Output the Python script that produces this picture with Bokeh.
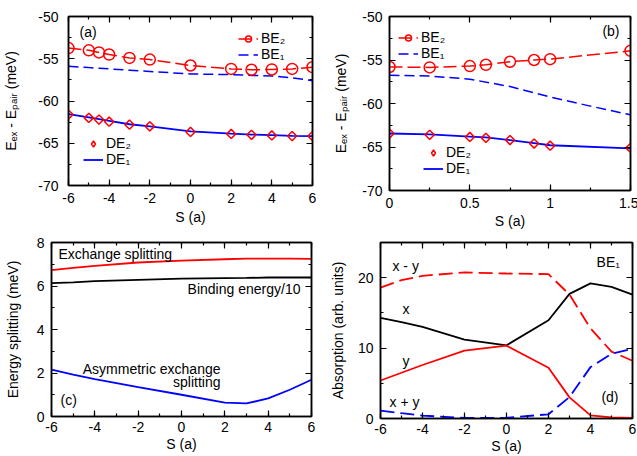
from bokeh.plotting import figure
from bokeh.layouts import column, row
from bokeh.models import (Range1d, LinearAxis, SingleIntervalTicker, CustomJSTickFormatter,
                          Legend, LegendItem, Label, CustomLabelingPolicy)
from bokeh.embed import file_html
from bokeh.resources import INLINE

FONT = "Liberation Sans"
FS = "14px"
RED = "#ff0000"
BLUE = "#0000ff"
BLACK = "#000000"

# ---------------- data ----------------
# panel (a)
s_a = [-6, -5, -4.5, -4, -3, -2, 0, 2, 3, 4, 5, 6]
be2_a = [-53.74, -54.0, -54.25, -54.5, -54.9, -55.1, -55.8, -56.2, -56.3, -56.27, -56.2, -56.0]
be1_a = [-55.9, -56.05, -56.12, -56.2, -56.35, -56.5, -56.8, -56.88, -56.97, -57.05, -57.25, -57.6]
de2_a = [-61.6, -62.0, -62.2, -62.45, -62.8, -63.0, -63.66, -63.9, -64.0, -64.08, -64.15, -64.15]
de1_a = [-61.55, -61.95, -62.15, -62.35, -62.75, -63.0, -63.6, -63.87, -63.97, -64.05, -64.12, -64.15]

# panel (b)
s_b = [0, 0.25, 0.5, 0.6, 0.75, 0.9, 1.0, 1.5]
be2_b = [-55.8, -55.85, -55.7, -55.55, -55.2, -55.0, -54.9, -53.95]
de2_b = [-63.45, -63.6, -63.85, -63.95, -64.2, -64.6, -64.85, -65.1]
de1_b = [-63.45, -63.55, -63.8, -63.9, -64.2, -64.55, -64.8, -65.15]
s_b1 = [0, 0.25, 0.5, 0.75, 1.0, 1.25, 1.5]
be1_b = [-56.75, -56.85, -57.2, -58.05, -59.25, -60.3, -61.3]

# panel (c)
s_c = [-6, -5, -4, -2, 0, 2, 3, 4, 5, 6]
exch_c = [6.73, 6.83, 6.93, 7.08, 7.17, 7.23, 7.26, 7.26, 7.26, 7.25]
bind_c = [6.13, 6.17, 6.22, 6.28, 6.34, 6.36, 6.37, 6.39, 6.39, 6.39]
asym_c = [2.15, 1.92, 1.72, 1.35, 1.0, 0.64, 0.6, 0.83, 1.23, 1.69]

# panel (d)
s_d = [-6, -5, -4, -2, 0, 2, 3, 4, 5, 6]
xmy_d = [18.6, 19.65, 20.27, 20.75, 20.6, 20.5, 17.6, 12.8, 9.5, 8.2]
x_d = [14.3, 13.7, 13.0, 11.2, 10.4, 13.96, 17.7, 19.2, 18.7, 17.6]
y_d = [5.4, 6.5, 7.6, 9.65, 10.35, 7.2, 3.0, 0.45, 0.15, 0.1]
xpy_d = [1.13, 0.75, 0.4, 0.1, 0.1, 0.6, 3.05, 7.3, 9.2, 9.9]

FMT = CustomJSTickFormatter(code="return String(Number(tick.toFixed(2)))")
NO_LABELS = CustomLabelingPolicy(code="""
try { for (const i of Array.from(indices)) indices.unset(i) } catch (e) {}
return indices
""")


def make_axis(ticker, label=None, show=True, standoff=7, label_standoff=3):
    ax = LinearAxis(ticker=ticker, formatter=FMT, axis_label=label,
                    major_tick_in=6, major_tick_out=0, minor_tick_in=3, minor_tick_out=0,
                    axis_line_color=BLACK, axis_line_width=1.5,
                    major_tick_line_width=1.2, minor_tick_line_width=1.2,
                    major_label_text_font=FONT, major_label_text_font_size=FS,
                    major_label_text_color=BLACK,
                    axis_label_text_font=FONT, axis_label_text_font_size=FS,
                    axis_label_text_font_style="normal", axis_label_text_color=BLACK,
                    major_label_standoff=standoff, axis_label_standoff=label_standoff)
    if not show:
        ax.major_label_text_font_size = "0px"
        ax.major_label_standoff = 0
        ax.major_label_policy = NO_LABELS
        ax.axis_label = None
    return ax


def make_fig(xr, yr, fw, fh, bl, br, bt, bb, xint, yint, ylabel,
             ystand, ylabstand, xstand, xlabstand):
    p = figure(x_range=Range1d(*xr), y_range=Range1d(*yr), frame_width=fw, frame_height=fh,
               min_border_left=bl, min_border_right=br, min_border_top=bt, min_border_bottom=bb,
               output_backend="svg", toolbar_location=None, x_axis_type=None, y_axis_type=None)
    p.outline_line_color = BLACK
    p.outline_line_width = 1.5
    p.background_fill_color = "white"
    p.border_fill_color = "white"
    xt = SingleIntervalTicker(interval=xint, num_minor_ticks=2)
    yt = SingleIntervalTicker(interval=yint, num_minor_ticks=2)
    p.add_layout(make_axis(xt, "S (a)", True, xstand, xlabstand), "below")
    p.add_layout(make_axis(yt, ylabel, True, ystand, ylabstand), "left")
    p.add_layout(make_axis(xt, None, False), "above")
    p.add_layout(make_axis(yt, None, False), "right")
    return p


def legend(items, loc):
    return Legend(items=items, location=loc, background_fill_alpha=0, border_line_alpha=0,
                  padding=0, margin=0, spacing=0, glyph_width=20, glyph_height=15,
                  label_height=15, label_standoff=3, label_text_font=FONT,
                  label_text_font_size=FS, label_text_color=BLACK,
                  inactive_fill_alpha=0)


def label(p, x, y, text, align="left"):
    p.add_layout(Label(x=x, y=y, text=text, text_font=FONT, text_font_size=FS,
                       text_baseline="middle", text_align=align, text_color=BLACK))


DIAMOND = dict(marker="square", angle=0.785, size=6.5, fill_color=None,
               line_color=RED, line_width=1.5)
DIAMOND_KEY = dict(marker="diamond", size=10, fill_color=None, line_color=RED,
                   line_width=1.5, visible=False)

YLAB_E = "Eₑₓ - Eₚₐᵢᵣ (meV)"

# ---------------- panel (a) ----------------
pa = make_fig((-6, 6), (-70, -50), 244, 169, 67, 7, 15, 48, 2, 5, YLAB_E, 10, 16, 7, 3)
la_be1 = pa.line(s_a, be1_a, line_color=BLUE, line_width=1.5, line_dash="10 5")
la_be2 = pa.line(s_a, be2_a, line_color=RED, line_width=1.5, line_dash="13 5")
sa_be2 = pa.scatter(s_a, be2_a, marker="circle", size=11, fill_color=None,
                    line_color=RED, line_width=1.5)
la_de1 = pa.line(s_a, de1_a, line_color=BLUE, line_width=1.8)
pa.scatter(s_a, de2_a, **DIAMOND)
ka_de2 = pa.scatter(s_a, de2_a, **DIAMOND_KEY)
pa.add_layout(legend([LegendItem(label="BE₂", renderers=[la_be2, sa_be2]),
                      LegendItem(label="BE₁", renderers=[la_be1])], (170, 123)))
pa.add_layout(legend([LegendItem(label="DE₂", renderers=[ka_de2], index=0),
                      LegendItem(label="DE₁", renderers=[la_de1])], (15, 18)))
label(pa, -5.46, -51.8, "(a)")

# ---------------- panel (b) ----------------
pb = make_fig((0, 1.5), (-70, -50), 241, 174, 70, 8, 16, 42, 0.5, 5, YLAB_E, 7, 10, 7, 2)
lb_be1 = pb.line(s_b1, be1_b, line_color=BLUE, line_width=1.5, line_dash="10 5")
lb_be2 = pb.line(s_b, be2_b, line_color=RED, line_width=1.5, line_dash="13 5")
sb_be2 = pb.scatter(s_b, be2_b, marker="circle", size=11, fill_color=None,
                    line_color=RED, line_width=1.5)
lb_de1 = pb.line(s_b, de1_b, line_color=BLUE, line_width=1.8)
pb.scatter(s_b, de2_b, **DIAMOND)
kb_de2 = pb.scatter(s_b, de2_b, **DIAMOND_KEY)
pb.add_layout(legend([LegendItem(label="BE₂", renderers=[lb_be2, sb_be2]),
                      LegendItem(label="BE₁", renderers=[lb_be1])], (9, 129)))
pb.add_layout(legend([LegendItem(label="DE₂", renderers=[kb_de2], index=0),
                      LegendItem(label="DE₁", renderers=[lb_de1])], (34, 14)))
label(pb, 1.325, -51.7, "(b)")

# ---------------- panel (c) ----------------
pc = make_fig((-6, 6), (0, 8), 260, 174, 51, 7, 10, 40, 2, 2, "Energy splitting (meV)", 7, 13, 5, 1)
pc.line(s_c, exch_c, line_color=RED, line_width=1.8)
pc.line(s_c, bind_c, line_color=BLACK, line_width=1.8)
pc.line(s_c, asym_c, line_color=BLUE, line_width=1.8)
label(pc, -5.68, 7.45, "Exchange splitting")
label(pc, 5.49, 5.88, "Binding energy/10", "right")
label(pc, 1.8, 2.2, "Asymmetric exchange", "right")
label(pc, 1.8, 1.6, "splitting", "right")
label(pc, -5.58, 0.78, "(c)")

# ---------------- panel (d) ----------------
pd = make_fig((-6, 6), (0, 25), 252, 176, 62, 5, 7, 41, 2, 10, "Absorption (arb. units)", 7, 9, 5, 1)
pd.line(s_d, xmy_d, line_color=RED, line_width=1.8, line_dash="14 6")
pd.line(s_d, xpy_d, line_color=BLUE, line_width=1.8, line_dash="14 6")
pd.line(s_d, x_d, line_color=BLACK, line_width=1.8)
pd.line(s_d, y_d, line_color=RED, line_width=1.8)
label(pd, -5.43, 21.7, "x - y")
label(pd, -4.95, 15.5, "x")
label(pd, -4.95, 8.1, "y")
label(pd, -5.57, 2.4, "x + y")
label(pd, 4.29, 22.3, "BE₁")
label(pd, 4.52, 3.1, "(d)")

layout = column(row(pa, pb, spacing=0), row(pc, pd, spacing=0), spacing=0)
open("out.html", "w").write(file_html(layout, INLINE))
